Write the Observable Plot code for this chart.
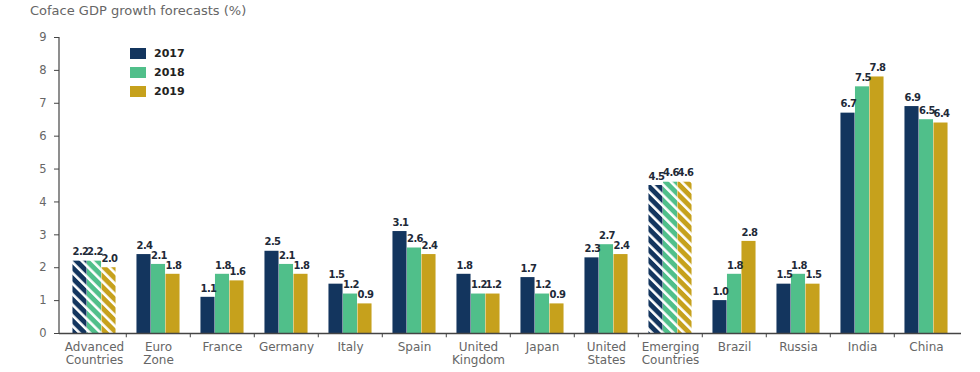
<!DOCTYPE html>
<html>
<head>
<meta charset="utf-8">
<script src="https://cdn.jsdelivr.net/npm/d3@7"></script>
<script src="https://cdn.jsdelivr.net/npm/@observablehq/plot@0.6"></script>
<style>
  body { margin: 0; background: #fff; font-family: "DejaVu Sans", sans-serif; }
  #wrap { position: relative; width: 980px; }
  #title { height: 22px; padding-left: 30px; font-size: 13px; color: #666; line-height: 22px; box-sizing: border-box; }
  #legend { position: absolute; left: 130px; top: 44px; font-size: 11px; font-weight: bold; color: #222; }
  .li { display: flex; align-items: center; height: 19px; }
  .sw { width: 16px; height: 11px; margin-right: 8px; }
  g.vlabel text { letter-spacing: -0.6px; }
</style>
</head>
<body>
<div id="wrap">
  <div id="title">Coface GDP growth forecasts (%)</div>
  <div id="chart"></div>
  <div id="legend"></div>
</div>
<script>
const categories = ["Advanced\nCountries", "Euro\nZone", "France", "Germany", "Italy", "Spain", "United\nKingdom", "Japan", "United\nStates", "Emerging\nCountries", "Brazil", "Russia", "India", "China"];
const years = ["2017", "2018", "2019"];
const values2017 = [2.2, 2.4, 1.1, 2.5, 1.5, 3.1, 1.8, 1.7, 2.3, 4.5, 1.0, 1.5, 6.7, 6.9];
const values2018 = [2.2, 2.1, 1.8, 2.1, 1.2, 2.6, 1.2, 1.2, 2.7, 4.6, 1.8, 1.8, 7.5, 6.5];
const values2019 = [2.0, 1.8, 1.6, 1.8, 0.9, 2.4, 1.2, 0.9, 2.4, 4.6, 2.8, 1.5, 7.8, 6.4];
const hatchedCategories = ["Advanced\nCountries", "Emerging\nCountries"];
const yTicks = [0, 1, 2, 3, 4, 5, 6, 7, 8, 9];
const colors = ["#13355e", "#50bf8a", "#c6a11c"];

const series = [values2017, values2018, values2019];
const data = [];
series.forEach((vals, i) => vals.forEach((v, j) => data.push({category: categories[j], year: years[i], value: v, hatched: hatchedCategories.includes(categories[j])})));

const W = 980, H = 350, mL = 59, mR = 19, mT = 15, mB = 39;
const bw = (W - mL - mR) / categories.length;
const barW = 14.5;

const marks = [];
years.forEach((yr, i) => {
  const insetLeft = bw / 2 - 1.5 * barW + i * barW;
  const insetRight = bw - insetLeft - barW;
  marks.push(Plot.barY(data.filter(d => d.year === yr && !d.hatched), {x: "category", y: "value", fill: colors[i], insetLeft, insetRight}));
  marks.push(Plot.barY(data.filter(d => d.year === yr && d.hatched), {x: "category", y: "value", fill: `url(#hatch${i})`, insetLeft, insetRight}));
});
years.forEach((yr, i) => {
  marks.push(Plot.text(data.filter(d => d.year === yr), {x: "category", y: "value", text: d => d.value.toFixed(1), dx: (i - 1) * barW + 0.5, dy: -9, fontWeight: "bold", fontSize: 10, fill: "#1e2a38", className: "vlabel"}));
});

const chart = Plot.plot({
  width: W, height: H,
  marginLeft: mL, marginRight: mR, marginTop: mT, marginBottom: mB,
  style: {fontFamily: "DejaVu Sans, sans-serif", fontSize: "11px", color: "#555", background: "#fff"},
  x: {domain: categories, padding: 0, label: null},
  y: {domain: [0, 9], ticks: yTicks, label: null},
  marks: [
    ...marks,
    Plot.axisY({ticks: yTicks, tickSize: 5, tickPadding: 8, stroke: "#444", fill: "#666", fontSize: 11.5, tickFormat: d => d}),
    Plot.ruleY([0], {stroke: "#444", strokeWidth: 1.5}),
    Plot.ruleX(categories.slice(1), {x: d => d, dx: -bw / 2, y1: 0, y2: -0.13, stroke: "#444"}),
    Plot.axisX({tickSize: 0, tickPadding: 8, fill: "#666", fontSize: 12, lineHeight: 1.1})
  ]
});

const svg = d3.select(chart);
const defs = svg.insert("defs", ":first-child");
colors.forEach((c, i) => {
  const p = defs.append("pattern").attr("id", `hatch${i}`).attr("patternUnits", "userSpaceOnUse")
    .attr("width", 7.5).attr("height", 7.5).attr("patternTransform", "rotate(-45)");
  p.append("rect").attr("width", 7.5).attr("height", 7.5).attr("fill", c);
  p.append("rect").attr("width", 2.6).attr("height", 7.5).attr("fill", "#fff");
});
// vertical axis line
svg.append("line").attr("x1", mL).attr("x2", mL).attr("y1", mT).attr("y2", H - mB).attr("stroke", "#444").attr("stroke-width", 1.2);

document.getElementById("chart").appendChild(chart);

const legend = d3.select("#legend");
years.forEach((yr, i) => {
  const row = legend.append("div").attr("class", "li");
  row.append("div").attr("class", "sw").style("background", colors[i]);
  row.append("span").text(yr);
});
</script>
</body>
</html>
